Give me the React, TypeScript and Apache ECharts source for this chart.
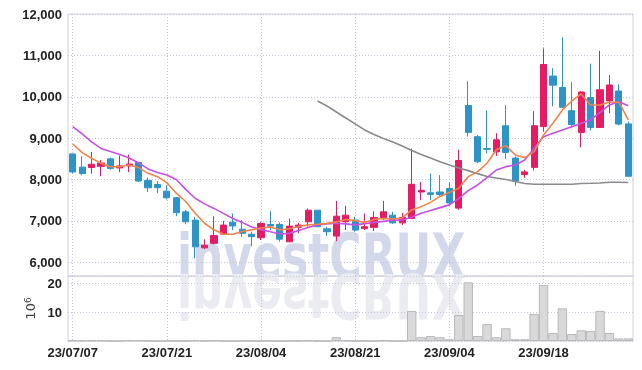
import React, { useEffect, useRef } from 'react';
import * as echarts from 'echarts';

const dates = [
  '23/07/07', '23/07/10', '23/07/11', '23/07/12', '23/07/13', '23/07/14',
  '23/07/17', '23/07/18', '23/07/19', '23/07/20', '23/07/21',
  '23/07/24', '23/07/25', '23/07/26', '23/07/27', '23/07/28',
  '23/07/31', '23/08/01', '23/08/02', '23/08/03', '23/08/04',
  '23/08/07', '23/08/08', '23/08/09', '23/08/10', '23/08/11',
  '23/08/14', '23/08/16', '23/08/17', '23/08/18', '23/08/21',
  '23/08/22', '23/08/23', '23/08/24', '23/08/25',
  '23/08/28', '23/08/29', '23/08/30', '23/08/31', '23/09/01',
  '23/09/04', '23/09/05', '23/09/06', '23/09/07', '23/09/08',
  '23/09/11', '23/09/12', '23/09/13', '23/09/14', '23/09/15',
  '23/09/18', '23/09/19', '23/09/20', '23/09/21', '23/09/22',
  '23/09/25', '23/09/26', '23/09/27', '23/10/04', '23/10/05',
];

const opens = [
  8620, 8300, 8290, 8320, 8500, 8280, 8330, 8410, 7980, 7880,
  7720, 7560, 7220, 7020, 6350, 6460, 6680, 6970, 6800, 6680,
  6595, 6915, 6915, 6495, 6845, 6980, 7260, 6810, 6635, 6980,
  7020, 6820, 6845, 7085, 7140, 6955, 7060, 7700, 7680, 7700,
  7785, 7310, 9790, 9035, 8750, 8670, 9300, 8520, 8120, 8295,
  9280, 10500, 10225, 9665, 9140, 9980, 9260, 9900, 10140, 9345,
];
const closes = [
  8183, 8145, 8370, 8400, 8270, 8330, 8375, 7965, 7800, 7805,
  7560, 7200, 6980, 6375, 6415, 6650, 6900, 6880, 6700, 6620,
  6940, 6875, 6560, 6875, 6900, 7260, 6860, 6740, 7115, 7140,
  6780, 6860, 7085, 7220, 6955, 7085, 7885, 7740, 7640, 7640,
  7435, 8460, 9140, 8430, 8730, 8960, 8655, 7965, 8185, 9300,
  10780, 10280, 9745, 9330, 10115, 9260, 10170, 10285, 9340, 8080,
];
const lows = [
  8150, 8100, 8140, 8080, 8240, 8180, 8180, 7940, 7700, 7670,
  7520, 7120, 6920, 6100, 6320, 6435, 6675, 6780, 6615, 6390,
  6540, 6780, 6500, 6495, 6700, 6860, 6850, 6635, 6510, 6780,
  6740, 6780, 6755, 7020, 6925, 6900, 7050, 7500, 7500, 7580,
  7405, 7270, 9040, 8400, 8630, 8570, 8500, 7850, 8040, 8220,
  9160, 9770, 9730, 9255, 8780, 9180, 9250, 9605, 9310, 8080,
];
const highs = [
  8620, 8560, 8670, 8470, 8530, 8580, 8600, 8425, 8050, 7960,
  7860, 7575, 7260, 7100, 6555, 7115, 7000, 7180, 7020, 6740,
  6965, 7235, 6965, 7060, 6955, 7300, 7265, 6860, 7485, 7365,
  7100, 7180, 7235, 7485, 7220, 7195, 8750, 7940, 8145, 8105,
  7940, 8720, 10375, 9075, 9670, 9120, 9800, 8560, 8240, 9650,
  11170, 10690, 11440, 10355, 10140, 10800, 11110, 10525, 10300, 9400,
];

// volume in millions of shares
const volumes = [
  0.2, 0.2, 0.2, 0.2, 0.05, 0.05, 0.2, 0.2, 0.05, 0.05,
  0.05, 0.05, 0.05, 0.2, 0.05, 0.2, 0.05, 0.05, 0.05, 0.05,
  0.05, 0.05, 0.05, 0.05, 0.05, 0.2, 0.05, 0.05, 1.3, 0.2,
  0.05, 0.05, 0.05, 0.2, 0.05, 0.05, 10.4, 1.3, 1.7, 1.3,
  0.6, 9.0, 20.3, 1.7, 5.9, 1.3, 4.4, 0.6, 0.6, 9.4,
  19.4, 2.8, 11.3, 2.4, 3.7, 3.5, 10.4, 2.8, 0.9, 0.9,
];

const maShort = [
  8860, 8650, 8515, 8395, 8310, 8310, 8350, 8290, 8150, 8070,
  7925, 7670, 7470, 7185, 6945, 6785, 6680, 6680, 6745, 6785,
  6830, 6856, 6785, 6810, 6864, 6905, 6921, 6941, 6977, 7037,
  7008, 6965, 7037, 7061, 7049, 7073, 7266, 7346, 7447, 7592,
  7689, 7790, 8070, 8191, 8394, 8727, 8819, 8595, 8530, 8675,
  9078, 9360, 9682, 9899, 10068, 9802, 9802, 9868, 9868, 9440,
];
const maMid = [
  9278, 9102, 8909, 8752, 8680, 8607, 8522, 8402, 8257, 8172,
  8112, 8003, 7762, 7549, 7412, 7303, 7182, 7061, 6965, 6856,
  6790, 6740, 6685, 6700, 6770, 6844, 6905, 6929, 6945, 6929,
  6905, 6936, 6965, 6989, 7018, 7025, 7090, 7187, 7255, 7322,
  7388, 7545, 7733, 7870, 8047, 8233, 8312, 8353, 8474, 8757,
  9037, 9119, 9199, 9278, 9360, 9440, 9626, 9802, 9882, 9785,
];
const maLong = [
  null, null, null, null, null, null, null, null, null, null,
  null, null, null, null, null, null, null, null, null, null,
  null, null, null, null, null, null, 9899, 9778, 9633, 9488,
  9344, 9199, 9090, 8993, 8909, 8812, 8704, 8607, 8522, 8433,
  8353, 8281, 8216, 8143, 8076, 8039, 8003, 7955, 7906, 7887,
  7887, 7887, 7887, 7887, 7906, 7911, 7918, 7935, 7935, 7930,
];

const priceMin = 5670;
const priceMax = 12000;
const volMax = 22.5;

const UP = '#e31c64';
const DOWN = '#2e94c8';
const FONT = "'Liberation Sans', Arial, sans-serif";
const MARK_FONT = "'Liberation Sans Narrow', 'DejaVu Sans Condensed', sans-serif";
const SPLIT = { type: [1, 2] as any, color: '#c6c6dc', width: 1 };

export default function App() {
  const ref = useRef<HTMLDivElement>(null);
  useEffect(() => {
    const chart = echarts.init(ref.current as HTMLDivElement, null, { renderer: 'svg' });
    const candleData = dates.map((_, i) => [opens[i], closes[i], lows[i], highs[i]]);
    const labelStyle = { fontFamily: FONT, fontWeight: 'bold', fontSize: 13, color: '#222' };
    chart.setOption({
      animation: false,
      graphic: [
        {
          type: 'group', x: 177, y: 276, scaleX: 0.79, z: 0,
          children: [
            {
              type: 'text', x: 0, y: 0,
              style: { x: 0, y: -20, text: 'investCRUX', font: `bold 62px ${MARK_FONT}`, fill: '#d3d8ea', textVerticalAlign: 'middle' },
            },
            {
              type: 'text', x: 0, y: 0, scaleY: -1,
              style: { x: 0, y: -20, text: 'investCRUX', font: `bold 62px ${MARK_FONT}`, fill: '#ebebf2', textVerticalAlign: 'middle' },
            },
          ],
        },
      ],
      grid: [
        { left: 68, right: 9, top: 14, height: 262, show: true, borderColor: '#d2d2da', borderWidth: 1 },
        { left: 68, right: 9, top: 276, height: 65, show: true, borderColor: '#d2d2da', borderWidth: 1 },
      ],
      xAxis: [
        {
          type: 'category', gridIndex: 0, data: dates, boundaryGap: true,
          axisLine: { show: false }, axisTick: { show: false }, axisLabel: { show: false },
          splitLine: { show: true, interval: 9, alignWithLabel: true, lineStyle: SPLIT },
        },
        {
          type: 'category', gridIndex: 1, data: dates, boundaryGap: true,
          axisLine: { show: false }, axisTick: { show: false },
          axisLabel: { ...labelStyle, interval: 9, margin: 5 },
          splitLine: { show: true, interval: 9, alignWithLabel: true, lineStyle: SPLIT },
        },
      ],
      yAxis: [
        {
          type: 'value', gridIndex: 0, min: priceMin, max: priceMax, scale: true,
          axisLine: { show: false }, axisTick: { show: false },
          axisLabel: { ...labelStyle, margin: 6, showMinLabel: false, formatter: (v: number) => v.toLocaleString('en-US') },
          splitLine: { show: true, lineStyle: SPLIT },
        },
        {
          type: 'value', gridIndex: 1, min: 0, max: volMax, interval: 10,
          name: '10{s|6}', nameLocation: 'middle', nameGap: 22, nameRotate: 90,
          nameTextStyle: {
            fontFamily: 'DejaVu Sans', fontSize: 13, color: '#444',
            rich: { s: { fontFamily: 'DejaVu Sans', fontSize: 9, color: '#444', verticalAlign: 'top', padding: [0, 0, 4, 0] } },
          },
          axisLine: { show: false }, axisTick: { show: false },
          axisLabel: { ...labelStyle, margin: 6, showMinLabel: false, showMaxLabel: false },
          splitLine: { show: true, lineStyle: SPLIT },
        },
      ],
      series: [
        {
          type: 'candlestick', xAxisIndex: 0, yAxisIndex: 0, data: candleData, barWidth: '70%', z: 2,
          itemStyle: { color: UP, color0: DOWN, borderColor: UP, borderColor0: DOWN, borderWidth: 1 },
        },
        {
          type: 'line', xAxisIndex: 0, yAxisIndex: 0, data: maLong, symbol: 'none', z: 3,
          lineStyle: { color: '#8a8a8a', width: 1.6 },
        },
        {
          type: 'line', xAxisIndex: 0, yAxisIndex: 0, data: maMid, symbol: 'none', z: 3,
          lineStyle: { color: '#c84fe6', width: 1.6 },
        },
        {
          type: 'line', xAxisIndex: 0, yAxisIndex: 0, data: maShort, symbol: 'none', z: 3,
          lineStyle: { color: '#f0844c', width: 1.6 },
        },
        {
          type: 'bar', xAxisIndex: 1, yAxisIndex: 1, data: volumes, barCategoryGap: '0%',
          itemStyle: { color: '#d9d9d9', borderColor: '#b8b8b8', borderWidth: 1 },
        },
      ],
    });
    return () => chart.dispose();
  }, []);
  return <div ref={ref} style={{ position: 'fixed', left: 0, top: 0, width: 642, height: 370 }} />;
}
